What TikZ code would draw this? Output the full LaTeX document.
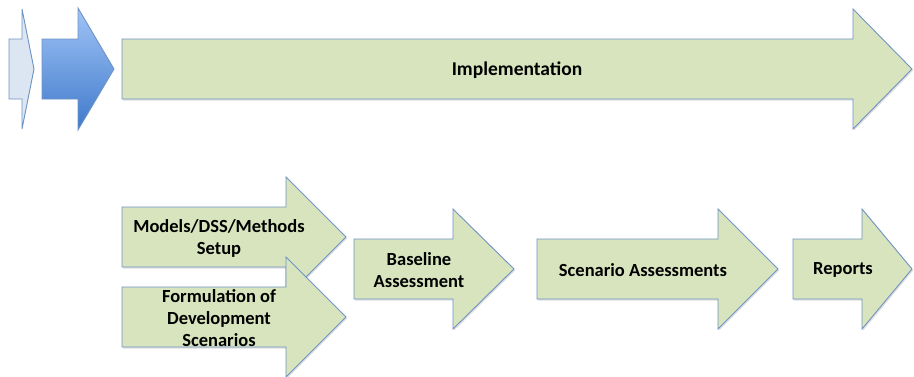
\documentclass[tikz,border=0pt]{standalone}
\usepackage{fontspec}
\setmainfont{Carlito}
\usetikzlibrary{shadows}
\definecolor{greenfill}{HTML}{D7E4BD}
\definecolor{edgeblue}{HTML}{6F93C4}
\definecolor{paleblue}{HTML}{DCE6F2}
\definecolor{bluetop}{HTML}{A0C4F6}
\definecolor{bluebot}{HTML}{3F79CB}
\newcommand\blockarrow[7]{% style, left, headbase, tip, cy, bodyhalf, headhalf
  \path[#1] (#2,#5-#6) -- (#3,#5-#6) -- (#3,#5-#7) -- (#4,#5) -- (#3,#5+#7) -- (#3,#5+#6) -- (#2,#5+#6) -- cycle;}
\tikzset{
  greenarrow/.style={fill=greenfill, draw=edgeblue, line width=0.9pt, line join=miter,
    drop shadow={opacity=0.25, shadow xshift=1.2pt, shadow yshift=-1.5pt}},
  palearrow/.style={fill=paleblue, draw=edgeblue, line width=0.9pt},
  bluearrow/.style={top color=bluetop, bottom color=bluebot, draw=edgeblue, line width=0.9pt},
  lbl/.style={font=\bfseries\fontsize{18.5}{22}\selectfont, align=center, inner sep=0pt, text=black},
}
\begin{document}
\begin{tikzpicture}[x=1pt,y=-1pt]
\useasboundingbox (0,0) rectangle (914,376);
% top row
\blockarrow{palearrow}{9}{22}{34}{69}{30}{60}
\blockarrow{bluearrow}{42}{78}{114}{69}{30}{61}
\blockarrow{greenarrow}{122}{853}{912}{69}{30}{60}
\node[lbl, font=\bfseries\fontsize{19.5}{23}\selectfont] (impl) at (517,70) {Implementation};
% lower row
\blockarrow{greenarrow}{122}{286}{346}{237}{30}{60}
\blockarrow{greenarrow}{122}{286}{346}{317}{30}{60}
\blockarrow{greenarrow}{354}{453}{514}{269}{30}{60}
\blockarrow{greenarrow}{537}{718}{778}{269}{30}{60}
\blockarrow{greenarrow}{793}{862}{912}{269}{30}{60}
\node[lbl] (models) at (219,238) {Models/DSS/Methods\\Setup};
\node[lbl] (formul) at (219,318) {Formulation of\\Development\\Scenarios};
\node[lbl] (base) at (419,270) {Baseline\\Assessment};
\node[lbl] (scen) at (643,270) {Scenario Assessments};
\node[lbl] (rep) at (843,270) {Reports};
\end{tikzpicture}
\end{document}
